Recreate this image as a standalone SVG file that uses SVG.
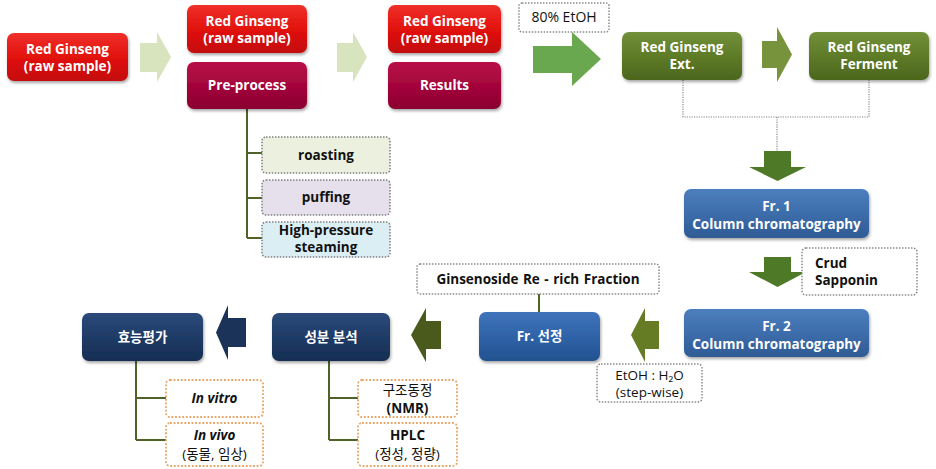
<svg xmlns="http://www.w3.org/2000/svg" width="936" height="469" viewBox="0 0 936 469">
<defs>
<linearGradient id="gRed" x1="0" y1="0" x2="0" y2="1"><stop offset="0" stop-color="#f0302a"/><stop offset="0.5" stop-color="#e2120e"/><stop offset="1" stop-color="#c40a08"/></linearGradient>
<linearGradient id="gMar" x1="0" y1="0" x2="0" y2="1"><stop offset="0" stop-color="#b81049"/><stop offset="0.5" stop-color="#a4053b"/><stop offset="1" stop-color="#8a0030"/></linearGradient>
<linearGradient id="gOl" x1="0" y1="0" x2="0" y2="1"><stop offset="0" stop-color="#72903a"/><stop offset="0.5" stop-color="#5e7b28"/><stop offset="1" stop-color="#4b661d"/></linearGradient>
<linearGradient id="gBl" x1="0" y1="0" x2="0" y2="1"><stop offset="0" stop-color="#4d7ebd"/><stop offset="0.5" stop-color="#3d6dab"/><stop offset="1" stop-color="#2f5b94"/></linearGradient>
<linearGradient id="gBl2" x1="0" y1="0" x2="0" y2="1"><stop offset="0" stop-color="#3f73ba"/><stop offset="0.5" stop-color="#2f63a8"/><stop offset="1" stop-color="#23528f"/></linearGradient>
<linearGradient id="gNv" x1="0" y1="0" x2="0" y2="1"><stop offset="0" stop-color="#2b4a7a"/><stop offset="0.5" stop-color="#1f3b66"/><stop offset="1" stop-color="#162e52"/></linearGradient>
<filter id="sh" x="-10%" y="-10%" width="125%" height="135%"><feDropShadow dx="1" dy="2" stdDeviation="1.5" flood-color="#000" flood-opacity="0.35"/></filter>
</defs>
<style>
text{font-family:"Open Sans","Noto Sans CJK KR","Noto Sans",sans-serif;font-size:13.5px;text-anchor:middle}
.w{fill:#fff;font-weight:bold}
.k{fill:#111;font-weight:bold}
.n{fill:#111;font-weight:normal}
.box{filter:url(#sh)}
.dg{fill:#fff;stroke:#8a8a8a;stroke-width:1.5;stroke-dasharray:1.5 1.5}
.dor{fill:#fff;stroke:#e6a467;stroke-width:1.8;stroke-dasharray:1.8 1.8}
.tree{fill:none;stroke:#4f6228;stroke-width:2}
.dot{fill:none;stroke:#8a8a8a;stroke-width:1.2;stroke-dasharray:1.2 1.2}
</style>

<g id="connectors">
<polygon points="140,43 157,43 157,32 171,57 157,82 157,72 140,72" fill="#d7e4bd"/>
<polygon points="337,43 353,43 353,32 367,57 353,82 353,72 337,72" fill="#d7e4bd"/>
<polygon points="533,46 572,46 572,32 601,59 572,86 572,73 533,73" fill="#6aa84f"/>
<polygon points="762,41 777,41 777,27 792,54.5 777,82 777,68 762,68" fill="#77933c"/>
<path class="dot" d="M683 80 V117 H869 V80 M777 117 V151"/>
<polygon points="764,151 791,151 791,167 806,167 777.5,181 749,167 764,167" fill="#4e7a27"/>
<polygon points="764,257 791,257 791,272 806,272 777.5,287 749,272 764,272" fill="#4e7a27"/>
<polygon points="631,335 645,308 645,321 659,321 659,349 645,349 645,362" fill="#667c24"/>
<polygon points="411,335 426,308 426,321 441,321 441,349 426,349 426,362" fill="#4a5a1c"/>
<polygon points="216,332.5 228,305 228,318 246,318 246,347 228,347 228,360" fill="#1b3358"/>
<path class="tree" d="M247 109 V238 M247 153 H262 M247 198 H262 M247 238 H262"/>
<path class="tree" d="M539 294 V312"/>
<path class="tree" d="M136 361 V440 M136 398 H166 M136 440 H166"/>
<path class="tree" d="M329 361 V440 M329 398 H358 M329 440 H358"/>
</g>

<g id="n1"><rect class="box" x="7" y="33" width="121" height="48" rx="7" fill="url(#gRed)"/>
<text class="w" x="67.5" y="54">Red Ginseng</text><text class="w" x="67.5" y="71">(raw sample)</text></g>

<g id="n2"><rect class="box" x="187" y="5" width="120" height="48" rx="7" fill="url(#gRed)"/>
<text class="w" x="247" y="26">Red Ginseng</text><text class="w" x="247" y="43">(raw sample)</text></g>
<g id="n2b"><rect class="box" x="187" y="62" width="120" height="47" rx="7" fill="url(#gMar)"/>
<text class="w" x="247" y="90">Pre-process</text></g>

<g id="n3"><rect class="box" x="388" y="5" width="113" height="48" rx="7" fill="url(#gRed)"/>
<text class="w" x="444.5" y="26">Red Ginseng</text><text class="w" x="444.5" y="43">(raw sample)</text></g>
<g id="n3b"><rect class="box" x="388" y="62" width="113" height="47" rx="7" fill="url(#gMar)"/>
<text class="w" x="444.5" y="90">Results</text></g>

<g id="etoh"><rect class="dg" x="519" y="3" width="90" height="29" rx="3"/>
<text class="n" x="564" y="22" style="font-size:14px">80% EtOH</text></g>

<g id="ext"><rect class="box" x="622" y="32" width="120" height="48" rx="7" fill="url(#gOl)"/>
<text class="w" x="682" y="52">Red Ginseng</text><text class="w" x="682" y="69">Ext.</text></g>

<g id="ferment"><rect class="box" x="809" y="32" width="120" height="48" rx="7" fill="url(#gOl)"/>
<text class="w" x="869" y="52">Red Ginseng</text><text class="w" x="869" y="69">Ferment</text></g>

<g id="roasting"><rect x="262" y="137" width="128" height="36" rx="4" fill="#ebf1de" stroke="#7f7f7f" stroke-width="1.5" stroke-dasharray="1.5 1.5"/>
<text class="k" x="326" y="160">roasting</text></g>
<g id="puffing"><rect x="262" y="180" width="128" height="35" rx="4" fill="#e6e0ec" stroke="#7f7f7f" stroke-width="1.5" stroke-dasharray="1.5 1.5"/>
<text class="k" x="326" y="202">puffing</text></g>
<g id="hps"><rect x="262" y="222" width="128" height="35" rx="4" fill="#dbeef4" stroke="#7f7f7f" stroke-width="1.5" stroke-dasharray="1.5 1.5"/>
<text class="k" x="326" y="235">High-pressure</text><text class="k" x="326" y="252">steaming</text></g>

<g id="fr1"><rect class="box" x="684" y="189" width="185" height="49" rx="7" fill="url(#gBl)"/>
<text class="w" x="776.5" y="211">Fr. 1</text><text class="w" x="776.5" y="229">Column chromatography</text></g>

<g id="crud"><rect class="dg" x="802" y="248" width="115" height="47" rx="4"/>
<text class="k" x="815" y="268" style="text-anchor:start">Crud</text><text class="k" x="815" y="285" style="text-anchor:start">Sapponin</text></g>

<g id="fr2"><rect class="box" x="684" y="309" width="185" height="48" rx="7" fill="url(#gBl)"/>
<text class="w" x="776.5" y="331">Fr. 2</text><text class="w" x="776.5" y="349">Column chromatography</text></g>

<g id="etohwater"><rect class="dg" x="597" y="364" width="105" height="38" rx="4"/>
<text class="n" x="649.5" y="380">EtOH : H₂O</text><text class="n" x="649.5" y="397">(step-wise)</text></g>

<g id="ginsenoside"><rect class="dg" x="417" y="264" width="242" height="30" rx="3"/>
<text class="k" x="538" y="284" style="word-spacing:1px">Ginsenoside Re - rich Fraction</text></g>

<g id="frsel"><rect class="box" x="479" y="312" width="121" height="49" rx="7" fill="url(#gBl2)"/>
<text class="w" x="539.5" y="341">Fr. 선정</text></g>

<g id="analysis"><rect class="box" x="272" y="313" width="118" height="48" rx="7" fill="url(#gNv)"/>
<text class="w" x="331" y="342">성분 분석</text></g>

<g id="efficacy"><rect class="box" x="82" y="313" width="121" height="48" rx="7" fill="url(#gNv)"/>
<text class="w" x="142.5" y="342">효능평가</text></g>

<g id="invitro"><rect class="dor" x="166" y="380" width="97" height="37" rx="4"/>
<text class="k" x="214.5" y="403" style="font-style:italic">In vitro</text></g>
<g id="invivo"><rect class="dor" x="166" y="423" width="97" height="43" rx="4"/>
<text class="k" x="214.5" y="440" style="font-style:italic">In vivo</text><text class="n" x="214.5" y="459">(동물, 임상)</text></g>

<g id="nmr"><rect class="dor" x="358" y="380" width="99" height="37" rx="4"/>
<text class="n" x="407.5" y="395">구조동정</text><text class="k" x="407.5" y="413">(NMR)</text></g>
<g id="hplc"><rect class="dor" x="358" y="423" width="99" height="43" rx="4"/>
<text class="k" x="407.5" y="440">HPLC</text><text class="n" x="407.5" y="459">(정성, 정량)</text></g>
</svg>
